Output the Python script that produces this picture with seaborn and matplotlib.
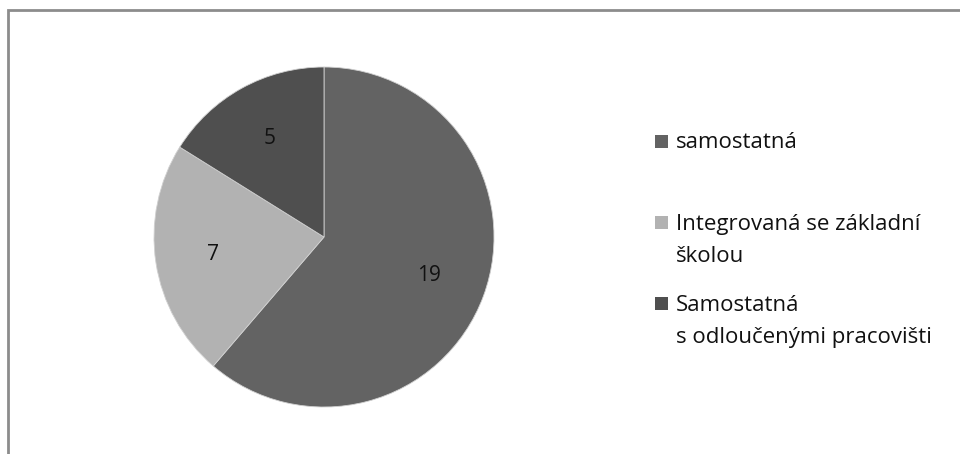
import matplotlib
matplotlib.use('Agg')
import matplotlib.pyplot as plt
import seaborn as sns
from matplotlib.patches import Rectangle

# data
labels = ['samostatná', 'Integrovaná se základní\nškolou', 'Samostatná\ns odloučenými pracovišti']
counts = [19, 7, 5]
colors = ['#636363', '#b2b2b2', '#4f4f4f']

sns.set_style('white')
plt.rcParams['font.family'] = ['Open Sans', 'DejaVu Sans']

fig = plt.figure(figsize=(9.6, 4.54), dpi=100)
ax = fig.add_axes([0.1604, 0.1035, 0.3542, 0.7489])

total = sum(counts)
wedges, texts, autotexts = ax.pie(
    counts, colors=colors, startangle=90, counterclock=False,
    autopct=lambda p: f'{round(p * total / 100):d}', pctdistance=0.66,
    wedgeprops={'edgecolor': '#d0d0d0', 'linewidth': 0.6},
    textprops={'fontsize': 15, 'color': '#111111'})
ax.set_xlim(-1, 1)
ax.set_ylim(-1, 1)
ax.set_aspect('equal')
ax.axis('off')

# legend, drawn by hand to match the stacked layout
# square centres and baselines of the last text line (px from top)
square_mid = [141, 222, 303]
last_base = [148, 262, 343]
for lab, col, ym, yb in zip(labels, colors, square_mid, last_base):
    fig.patches.append(Rectangle((655 / 960, 1 - (ym + 6.5) / 454), 13 / 960, 13 / 454,
                                 transform=fig.transFigure, facecolor=col,
                                 edgecolor='none'))
    fig.text(676 / 960, 1 - yb / 454, lab, fontsize=16, va='baseline', ha='left',
             color='#111111', linespacing=1.7)

# outer frame (only top and left edges visible)
fig.patches.append(Rectangle((8 / 960, -0.1), 1.2, (454 - 10) / 454 + 0.1,
                             transform=fig.transFigure, fill=False,
                             edgecolor='#8c8c8c', linewidth=2))

fig.savefig('out.png', dpi=100)
